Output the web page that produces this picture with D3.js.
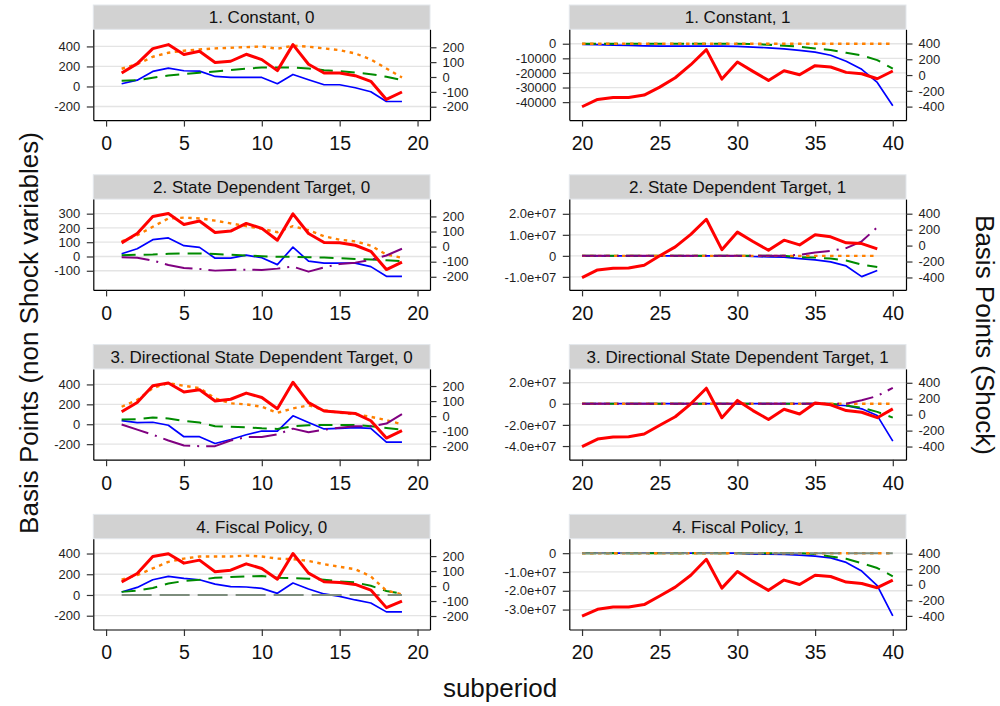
<!DOCTYPE html>
<html>
<head>
<meta charset="utf-8">
<script src="https://cdn.jsdelivr.net/npm/d3@7"></script>
<style>
body { margin: 0; background: #fff; }
svg { font-family: "Liberation Sans", Arial, sans-serif; }
</style>
</head>
<body>
<script>
var W = 1000, H = 706;

// subperiods
var xLeft  = [1,2,3,4,5,6,7,8,9,10,11,12,13,14,15,16,17,18,19];
var xRight = [20,21,22,23,24,25,26,27,28,29,30,31,32,33,34,35,36,37,38,39,40];
var xRight39 = [20,21,22,23,24,25,26,27,28,29,30,31,32,33,34,35,36,37,38,39];

var titles = ["1. Constant, 0", "1. Constant, 1",
              "2. State Dependent Target, 0", "2. State Dependent Target, 1",
              "3. Directional State Dependent Target, 0", "3. Directional State Dependent Target, 1",
              "4. Fiscal Policy, 0", "4. Fiscal Policy, 1"];

// 1. Constant, 0
var L1_red    = [27, 90, 191, 218, 151, 173, 97, 106, 153, 117, 43, 218, 86, 27, 27, 9, -29, -151, -101];
var L1_blue   = [27, 63, 150, 183, 157, 153, 100, 90, 90, 90, 27, 120, 67, 17, 17, -13, -53, -150, -150];
var L1_green  = [57, 63, 87, 110, 123, 137, 150, 163, 177, 190, 190, 190, 180, 163, 153, 140, 123, 97, 63];
var L1_orange = [177, 223, 297, 337, 357, 370, 380, 387, 393, 400, 377, 407, 397, 380, 363, 330, 270, 180, 90];

// 2. State Dependent Target, 0
var L2_red    = [25, 87, 199, 219, 147, 170, 94, 103, 154, 121, 42, 217, 87, 27, 25, 9, -31, -152, -103];
var L2_blue   = [19, 54, 118, 130, 76, 64, -12, -12, 9, -9, -57, 66, -33, -47, -47, -47, -71, -139, -139];
var L2_green  = [9, 12, 14, 19, 21, 21, 17, 12, 7, 2, -2, -2, -5, -7, -12, -17, -21, -26, -33];
var L2_orange = [106, 149, 208, 267, 272, 267, 251, 232, 213, 194, 170, 213, 184, 142, 118, 106, 76, 14, -9];
var L2_purple = [-5, -9, -28, -59, -80, -87, -99, -94, -92, -94, -85, -71, -106, -76, -52, -43, -24, 7, 54];

// 3. Directional State Dependent Target, 0
var L3_red    = [29, 90, 202, 220, 160, 175, 101, 112, 153, 124, 49, 225, 90, 34, 25, 18, -31, -146, -97];
var L3_blue   = [37, 17, 20, -10, -125, -125, -193, -153, -105, -68, -68, 85, 17, -47, -41, -34, -41, -180, -180];
var L3_green  = [47, 51, 68, 58, 34, 17, -20, -24, -31, -41, -47, -20, -10, -7, -7, -7, -20, -37, -54];
var L3_orange = [176, 244, 363, 414, 386, 363, 260, 210, 200, 176, 115, 159, 190, 142, 115, 102, 75, 41, 0];
var L3_purple = [-3, -54, -105, -163, -214, -220, -220, -163, -129, -129, -102, -44, -81, -54, -34, -20, -20, 7, 102];

// 4. Fiscal Policy, 0
var L4_red    = [27, 84, 197, 215, 153, 173, 95, 106, 148, 117, 46, 217, 86, 29, 24, 11, -27, -144, -100];
var L4_blue   = [29, 73, 147, 179, 160, 147, 105, 80, 77, 64, 16, 115, 58, 10, -13, -48, -77, -163, -163];
var L4_green  = [30, 42, 68, 110, 135, 147, 166, 174, 180, 183, 166, 163, 157, 147, 131, 121, 89, 38, 13];
var L4_orange = [147, 192, 256, 319, 351, 371, 371, 371, 380, 371, 351, 345, 329, 297, 272, 249, 179, 42, 6];
var L4_gray   = [0, 0, 0, 0, 0, 0, 0, 0, 0, 0, 0, 0, 0, 0, 0, 0, 0, 0, 0];

// 1. Constant, 1
var R1_red    = [-402, -309, -284, -284, -254, -153, -34, 131, 322, -51, 165, 47, -68, 55, 4, 119, 102, 34, 17, -47, 51];
var R1_blue   = [-500, -600, -1000, -1200, -1500, -1600, -1600, -1600, -1600, -1700, -1800, -2300, -2800, -3500, -4500, -5700, -7900, -12000, -17500, -26500, -42500];
var R1_green  = [0, 0, 0, 0, 0, 0, 0, 0, 0, 0, 0, -200, -700, -1400, -2000, -3200, -4300, -6200, -8000, -11200, -17100];
var R1_orange = [0, 0, 0, 0, 0, 0, 0, 0, 0, 0, 0, 0, 0, 0, 0, 0, 0, 0, 0, 0, 0];

// 2. State Dependent Target, 1 (ends at 39)
var R2_red    = [-402, -305, -284, -280, -246, -127, -17, 140, 330, -51, 169, 51, -59, 68, 8, 136, 110, 34, 25, -42];
var R2_blue   = [0, 0, 0, 0, 0, 0, 0, 0, 0, 0, 0, -0.03e7, -0.05e7, -0.06e7, -0.13e7, -0.19e7, -0.29e7, -0.48e7, -0.99e7, -0.70e7];
var R2_green  = [0, 0, 0, 0, 0, 0, 0, 0, 0, 0, 0, 0, 0, 0, -0.06e7, -0.08e7, -0.13e7, -0.22e7, -0.42e7, -0.53e7];
var R2_orange = [0, 0, 0, 0, 0, 0, 0, 0, 0, 0, 0, 0, 0, 0, 0, 0, 0, 0, 0, 0];
var R2_purple = [0, 0, 0, 0, 0, 0, 0, 0, 0, 0, 0, 0, 0, 0, 0.05e7, 0.16e7, 0.24e7, 0.37e7, 0.69e7, 1.36e7];

// 3. Directional State Dependent Target, 1
var R3_red    = [-400, -306, -281, -277, -243, -132, -26, 136, 332, -38, 179, 51, -60, 68, 9, 145, 123, 51, 30, -38, 72];
var R3_blue   = [0, 0, 0, 0, 0, 0, 0, 0, 0, 0, 0, 0, 0, 0, 0, 0, -0.06e7, -0.19e7, -0.48e7, -1.12e7, -3.54e7];
var R3_green  = [0, 0, 0, 0, 0, 0, 0, 0, 0, 0, 0, 0, 0, 0, 0, 0, 0, -0.16e7, -0.38e7, -0.77e7, -1.31e7];
var R3_orange = [0, 0, 0, 0, 0, 0, 0, 0, 0, 0, 0, 0, 0, 0, 0, 0, 0, 0, 0, 0, 0];
var R3_purple = [0, 0, 0, 0, 0, 0, 0, 0, 0, 0, 0, 0, 0, 0, 0, 0, 0, 0, 0.32e7, 0.73e7, 1.5e7];

// 4. Fiscal Policy, 1
var R4_red    = [-404, -315, -285, -285, -255, -145, -30, 123, 328, -43, 170, 43, -72, 60, 4, 123, 106, 34, 17, -38, 60];
var R4_blue   = [0, 0, 0, 0, 0, 0, 0, 0, 0, 0, 0, -0.05e7, -0.05e7, -0.07e7, -0.1e7, -0.16e7, -0.25e7, -0.49e7, -0.95e7, -1.73e7, -3.33e7];
var R4_green  = [0, 0, 0, 0, 0, 0, 0, 0, 0, 0, 0, 0, 0, 0, 0, -0.05e7, -0.18e7, -0.3e7, -0.53e7, -0.79e7, -1.23e7];
var R4_orange = [0, 0, 0, 0, 0, 0, 0, 0, 0, 0, 0, 0, 0, 0, 0, 0, 0, 0, 0, 0, 0];
var R4_gray   = [0, 0, 0, 0, 0, 0, 0, 0, 0, 0, 0, 0, 0, 0, 0, 0, 0, 0, 0, 0, 0];

// axis ticks and labels
var xTicksLeft  = [0, 5, 10, 15, 20];
var xTicksRight = [20, 25, 30, 35, 40];
var shockTicksL = [200, 100, 0, -100, -200];
var shockTicksR = [400, 200, 0, -200, -400];
var ticks400 = [400, 200, 0, -200];
var ticks300 = [300, 200, 100, 0, -100];
var ticksR1 = [0, -10000, -20000, -30000, -40000];
var ticksR2 = [2e7, 1e7, 0, -1e7];
var labelsR2 = ["2.0e+07", "1.0e+07", "0", "-1.0e+07"];
var ticksR3 = [2e7, 0, -2e7, -4e7];
var labelsR3 = ["2.0e+07", "0", "-2.0e+07", "-4.0e+07"];
var ticksR4 = [0, -1e7, -2e7, -3e7];
var labelsR4 = ["0", "-1.0e+07", "-2.0e+07", "-3.0e+07"];

var panels = [
  {title: titles[0], col: 0, row: 0, xs: xLeft, xTicks: xTicksLeft, xDom: [-0.82, 20.8],
   lDom: [-336, 571], rDom: [-290, 321], lTicks: ticks400, rTicks: shockTicksL,
   s: {blue: L1_blue, green: L1_green, orange: L1_orange, red: L1_red}},
  {title: titles[1], col: 1, row: 0, xs: xRight, xTicks: xTicksRight, xDom: [19.18, 40.85],
   lDom: [-52300, 9880], rDom: [-571, 580], lTicks: ticksR1, rTicks: shockTicksR,
   s: {blue: R1_blue, green: R1_green, orange: R1_orange, red: R1_red}},
  {title: titles[2], col: 0, row: 1, xs: xLeft, xTicks: xTicksLeft, xDom: [-0.82, 20.8],
   lDom: [-234, 402], rDom: [-287, 315], lTicks: ticks300, rTicks: shockTicksL,
   s: {blue: L2_blue, green: L2_green, orange: L2_orange, purple: L2_purple, red: L2_red}},
  {title: titles[3], col: 1, row: 1, xs: xRight39, xTicks: xTicksRight, xDom: [19.18, 40.85],
   lDom: [-1.62e7, 2.70e7], rDom: [-556, 583], lTicks: ticksR2, lLabels: labelsR2, rTicks: shockTicksR,
   s: {blue: R2_blue, green: R2_green, orange: R2_orange, purple: R2_purple, red: R2_red}},
  {title: titles[4], col: 0, row: 2, xs: xLeft, xTicks: xTicksLeft, xDom: [-0.82, 20.8],
   lDom: [-356, 556], rDom: [-290, 314], lTicks: ticks400, rTicks: shockTicksL,
   s: {blue: L3_blue, green: L3_green, orange: L3_orange, purple: L3_purple, red: L3_red}},
  {title: titles[5], col: 1, row: 2, xs: xRight, xTicks: xTicksRight, xDom: [19.18, 40.85],
   lDom: [-5.29e7, 3.29e7], rDom: [-565, 574], lTicks: ticksR3, lLabels: labelsR3, rTicks: shockTicksR,
   s: {blue: R3_blue, green: R3_green, orange: R3_orange, purple: R3_purple, red: R3_red}},
  {title: titles[6], col: 0, row: 3, xs: xLeft, xTicks: xTicksLeft, xDom: [-0.82, 20.8],
   lDom: [-333, 543], rDom: [-290, 316], lTicks: ticks400, rTicks: shockTicksL,
   s: {blue: L4_blue, green: L4_green, orange: L4_orange, gray: L4_gray, red: L4_red}},
  {title: titles[7], col: 1, row: 3, xs: xRight, xTicks: xTicksRight, xDom: [19.18, 40.85],
   lDom: [-4.06e7, 0.77e7], rDom: [-575, 592], lTicks: ticksR4, lLabels: labelsR4, rTicks: shockTicksR,
   s: {blue: R4_blue, green: R4_green, orange: R4_orange, gray: R4_gray, red: R4_red}}
];

var styles = {
  blue:   {color: "#0000ff", width: 1.7, dash: null},
  green:  {color: "#008b00", width: 2,   dash: "14,8"},
  orange: {color: "#ff8000", width: 2.4, dash: "3.5,4.5"},
  purple: {color: "#800080", width: 2,   dash: "28,7,2,7"},
  gray:   {color: "#7d8d7d", width: 2,   dash: "30,8"},
  red:    {color: "#ff0000", width: 3,   dash: null}
};
var drawOrder = ["blue", "green", "orange", "purple", "gray", "red"];

var colX = [[93.3, 430], [569.3, 906]];
var rowTop = 5, rowStep = 169.8, headH = 24.3, plotH = 90.8;

var svg = d3.select("body").append("svg")
    .attr("width", W)
    .attr("height", H)
    .style("background-color", "#fff");

function plainFmt(d) { return String(d); }

panels.forEach(function(p) {
  var x0 = colX[p.col][0], x1 = colX[p.col][1];
  var top = rowTop + p.row * rowStep;
  var pTop = top + headH, pBot = pTop + plotH;

  var x  = d3.scaleLinear().domain(p.xDom).range([x0, x1]);
  var yL = d3.scaleLinear().domain(p.lDom).range([pBot, pTop]);
  var yR = d3.scaleLinear().domain(p.rDom).range([pBot, pTop]);

  var g = svg.append("g");

  // header strip
  g.append("rect")
    .attr("x", x0).attr("y", top)
    .attr("width", x1 - x0).attr("height", headH)
    .style("fill", "#d2d2d2")
    .style("stroke", "#e3e7ec")
    .style("stroke-width", "1px");
  g.append("text")
    .attr("x", (x0 + x1) / 2)
    .attr("y", top + headH / 2)
    .attr("dy", "0.36em")
    .attr("text-anchor", "middle")
    .style("font-size", "17px")
    .style("fill", "#111")
    .text(p.title);

  // gridlines on left axis ticks
  g.selectAll("line.grid").data(p.lTicks).enter().append("line")
    .attr("class", "grid")
    .attr("x1", x0).attr("x2", x1)
    .attr("y1", function(d) { return yL(d); })
    .attr("y2", function(d) { return yL(d); })
    .style("stroke", "#e4e4e4")
    .style("stroke-width", "1.3px");

  // series
  drawOrder.forEach(function(k) {
    var vals = p.s[k];
    if (!vals) return;
    var ys = (k === "red") ? yR : yL;
    var line = d3.line()
      .x(function(d, i) { return x(p.xs[i]); })
      .y(function(d) { return ys(d); });
    var st = styles[k];
    g.append("path")
      .datum(vals)
      .attr("d", line)
      .style("fill", "none")
      .style("stroke", st.color)
      .style("stroke-width", st.width + "px")
      .style("stroke-linejoin", "round")
      .style("stroke-dasharray", st.dash);
  });

  // axes
  var lab = p.lLabels;
  var axL = d3.axisLeft(yL).tickValues(p.lTicks).tickSizeInner(6.5).tickSizeOuter(0).tickPadding(6.5)
    .tickFormat(function(d, i) { return lab ? lab[i] : plainFmt(d); });
  var axR = d3.axisRight(yR).tickValues(p.rTicks).tickSizeInner(6.5).tickSizeOuter(0).tickPadding(6)
    .tickFormat(plainFmt);
  var axB = d3.axisBottom(x).tickValues(p.xTicks).tickSizeInner(6.5).tickSizeOuter(0).tickPadding(9.5)
    .tickFormat(plainFmt);

  var gL = g.append("g").attr("transform", "translate(" + x0 + ",0)").call(axL);
  var gR = g.append("g").attr("transform", "translate(" + x1 + ",0)").call(axR);
  var gB = g.append("g").attr("transform", "translate(0," + pBot + ")").call(axB);

  [gL, gR].forEach(function(a) {
    a.selectAll("text").style("font-size", "13px").style("fill", "#1e1e1e")
      .style("font-family", "'Liberation Sans', Arial, sans-serif");
  });
  gB.selectAll("text").style("font-size", "19.5px").style("fill", "#111")
    .style("font-family", "'Liberation Sans', Arial, sans-serif");
  [gL, gR, gB].forEach(function(a) {
    a.select(".domain").style("stroke", "#000").style("stroke-width", "1.2px");
    a.selectAll(".tick line").style("stroke", "#333").style("stroke-width", "1.2px");
  });
});

// axis titles
svg.append("text")
  .attr("transform", "translate(38,333) rotate(-90)")
  .attr("text-anchor", "middle")
  .style("font-size", "26px")
  .style("fill", "#111")
  .text("Basis Points (non Shock variables)");

svg.append("text")
  .attr("transform", "translate(976,335) rotate(90)")
  .attr("text-anchor", "middle")
  .style("font-size", "26px")
  .style("fill", "#111")
  .text("Basis Points (Shock)");

svg.append("text")
  .attr("x", 500)
  .attr("y", 697)
  .attr("text-anchor", "middle")
  .style("font-size", "26px")
  .style("fill", "#111")
  .text("subperiod");
</script>
</body>
</html>
